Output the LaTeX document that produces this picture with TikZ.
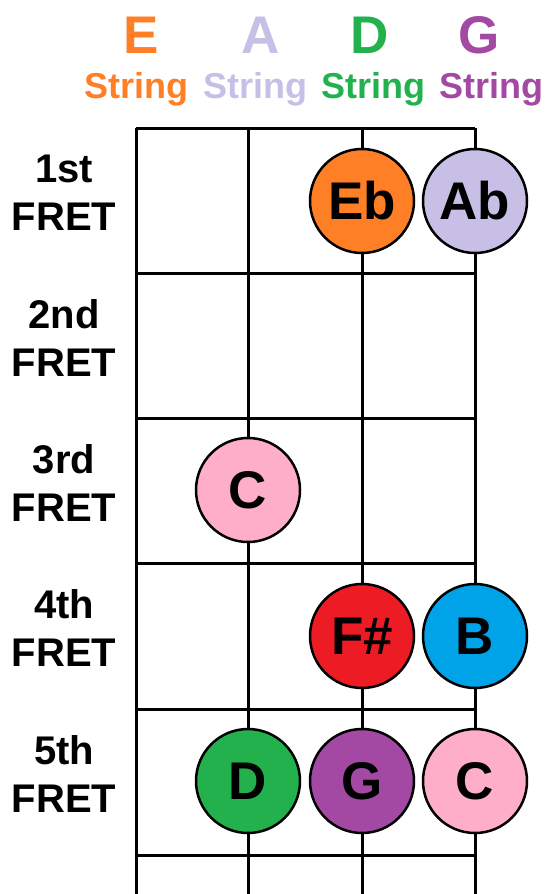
\documentclass[tikz,border=0pt]{standalone}
\usepackage{fontspec}
\setmainfont{Liberation Sans}
\usetikzlibrary{positioning}
\definecolor{eorange}{HTML}{FF7F27}
\definecolor{alilac}{HTML}{C8BFE7}
\definecolor{dgreen}{HTML}{22B14C}
\definecolor{gpurple}{HTML}{A349A4}
\definecolor{cpink}{HTML}{FFAEC9}
\definecolor{fred}{HTML}{ED1C24}
\definecolor{bblue}{HTML}{00A2E8}
\tikzstyle{notedot}=[circle,draw=black,line width=2.5pt,fill=#1,minimum size=104pt,inner sep=0pt,font=\fontsize{53}{53}\selectfont\bfseries]
\tikzstyle{fretline}=[line width=3pt,black]
\newcommand{\fretdot}[4]{\node[notedot=#1] (#2) at (#3) {#4};}
\newcommand{\fretlabel}[3]{\node[align=center,font=\fontsize{40}{48}\selectfont\bfseries] (#1) at (64,#2) {#3\\FRET};}
\newcommand{\stringname}[4]{\node[anchor=base,text=#1,font=\fontsize{53}{53}\selectfont\bfseries] (name#2) at (#3,53) {#2};
    \node[anchor=base,text=#1,font=\fontsize{36}{36}\selectfont\bfseries] (str#2) at (#4,98) {String};}

\begin{document}
\begin{tikzpicture}[x=1pt,y=-1pt]
    \useasboundingbox (0,0) rectangle (548,894);

    % strings
    \stringname{eorange}{E}{141}{136}
    \stringname{alilac}{A}{261}{255}
    \stringname{dgreen}{D}{370}{373}
    \stringname{gpurple}{G}{479}{491}

    % neck
    \foreach \x in {136,248,362,475}
        \draw[fretline] (\x,128) -- (\x,894);
    \foreach \y in {128,273,418,563,709,855}
        \draw[fretline] (136,\y) -- (475,\y);

    \fretlabel{f1}{193}{1st}
    \fretlabel{f2}{338}{2nd}
    \fretlabel{f3}{483}{3rd}
    \fretlabel{f4}{628}{4th}
    \fretlabel{f5}{774}{5th}

    % notes
    \fretdot{eorange}{eb}{362,201}{Eb}
    \fretdot{alilac}{ab}{475,201}{Ab}
    \fretdot{cpink}{c3}{248,490}{C}
    \fretdot{fred}{fs}{362,636}{F\#}
    \fretdot{bblue}{b4}{475,636}{B}
    \fretdot{dgreen}{d5}{248,781}{D}
    \fretdot{gpurple}{g5}{362,781}{G}
    \fretdot{cpink}{c5}{475,781}{C}
\end{tikzpicture}
\end{document}
